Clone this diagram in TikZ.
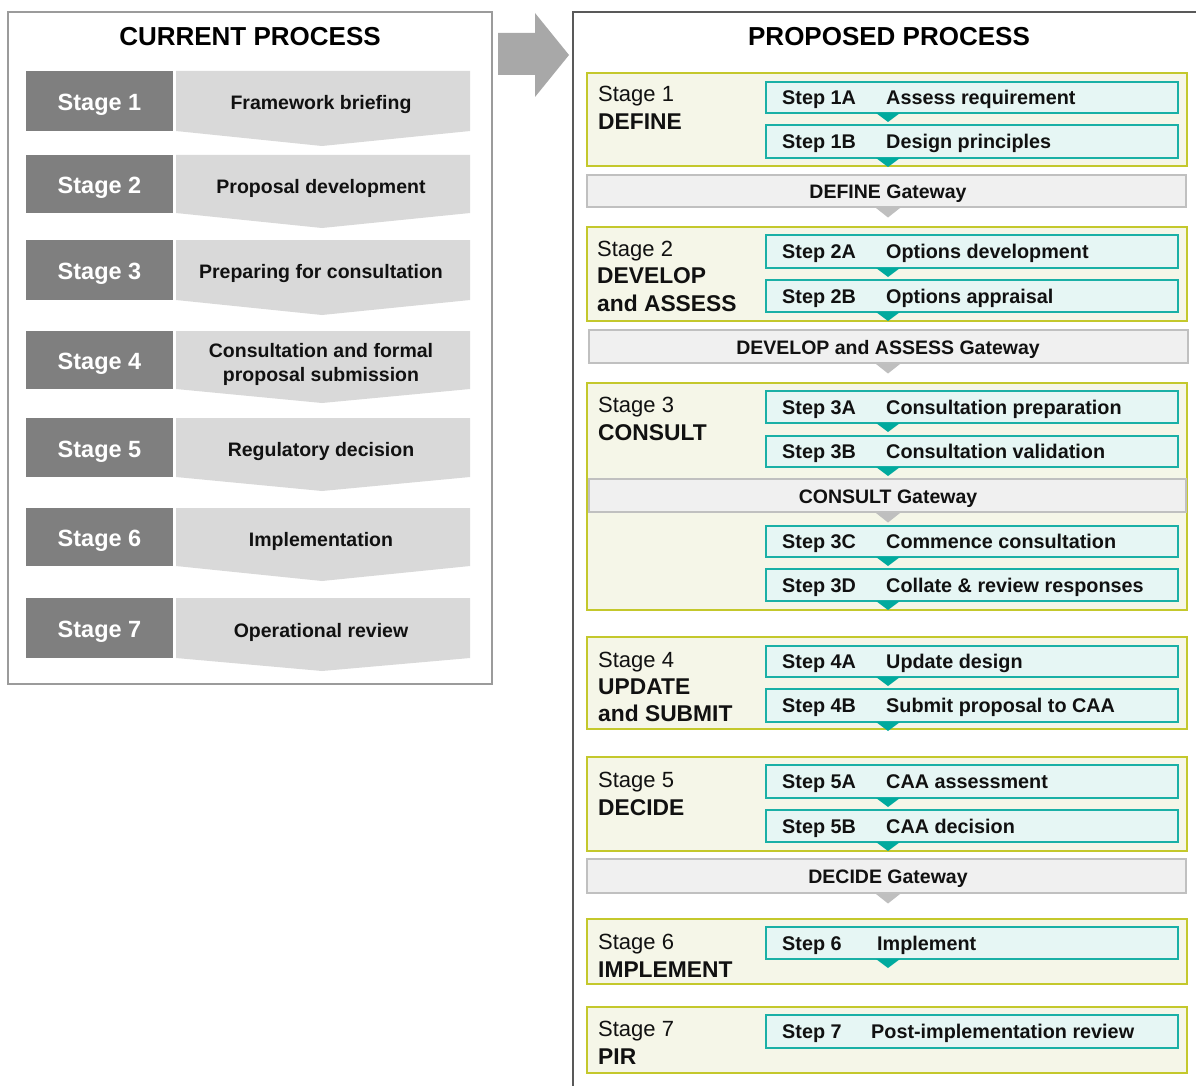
\documentclass[tikz,border=0pt]{standalone}
\usepackage{fontspec}
\setmainfont{Liberation Sans}
\definecolor{darkstage}{RGB}{127,127,127}
\definecolor{chev}{RGB}{217,217,217}
\definecolor{bigarrow}{RGB}{168,168,168}
\definecolor{leftborder}{RGB}{155,155,155}
\definecolor{rightborder}{RGB}{89,89,89}
\definecolor{stagefill}{RGB}{245,246,232}
\definecolor{stageline}{RGB}{196,200,44}
\definecolor{stepfill}{RGB}{230,246,244}
\definecolor{stepline}{RGB}{26,176,166}
\definecolor{steptri}{RGB}{0,170,158}
\definecolor{gatefill}{RGB}{240,240,240}
\definecolor{gateline}{RGB}{192,192,192}
\definecolor{gatetri}{RGB}{191,191,191}
\definecolor{txt}{RGB}{17,17,17}
\tikzset{
  box/.style={inner sep=0pt, outer sep=0pt, anchor=north west},
  stagebox/.style={box, draw=stageline, fill=stagefill, line width=1.8pt, minimum width=600pt},
  stepbox/.style={box, draw=stepline, fill=stepfill, line width=1.8pt, minimum width=412pt},
  gatebox/.style={box, draw=gateline, fill=gatefill, line width=1.5pt},
  darkbox/.style={box, fill=darkstage, minimum width=147pt},
  titletext/.style={font=\bfseries\fontsize{26}{30}\selectfont, text=black},
  lefttag/.style={font=\bfseries\fontsize{23.5}{27}\selectfont, text=white},
  chevtext/.style={font=\bfseries\fontsize{19.5}{24}\selectfont, text=txt, align=center},
  steptext/.style={font=\bfseries\fontsize{19.8}{23}\selectfont, text=txt, anchor=base west, inner sep=0pt},
  gatetext/.style={font=\bfseries\fontsize{19.5}{23}\selectfont, text=txt},
  stagenum/.style={font=\fontsize{22}{26}\selectfont, text=txt, anchor=base west, inner sep=0pt},
  stagename/.style={font=\bfseries\fontsize{22.8}{26}\selectfont, text=txt, anchor=base west, inner sep=0pt},
}
\begin{document}
\begin{tikzpicture}[x=1pt,y=-1pt]
\useasboundingbox (0,0) rectangle (1196,1086);
\fill[white] (0,0) rectangle (1196,1086);

% ---------- LEFT PANEL ----------
\draw[leftborder, line width=1.3pt] (8,12) rectangle (492,684);
\node[titletext] (ltitle) at (250,37) {CURRENT PROCESS};

\foreach \i/\t/\b/\p/\lab in {
  1/71/131/146/{Framework briefing},
  2/155/213/228/{Proposal development},
  3/240/300/315/{Preparing for consultation},
  4/331/389/403/{Consultation and formal\\proposal submission},
  5/418/477/491/{Regulatory decision},
  6/508/566/581/{Implementation},
  7/598/658/671/{Operational review}}
{
  \fill[chev] (176,\t) -- (470,\t) -- (470,\b) -- (322,\p) -- (176,\b) -- cycle;
  \pgfmathsetmacro{\h}{\b-\t}
  \node[darkbox, minimum height=\h pt] (ls\i) at (26,\t) {};
  \node[lefttag] (lt\i) at ([yshift=-4pt]ls\i.center) {Stage \i};
  \node[chevtext] (lc\i) at (321,{(\t+\b)/2+4}) {\lab};
}

% ---------- BIG ARROW ----------
\fill[bigarrow] (498,33) -- (535,33) -- (535,13) -- (569,55) -- (535,97) -- (535,75) -- (498,75) -- cycle;

% ---------- RIGHT PANEL ----------
\draw[rightborder, line width=2pt] (573,1090) -- (573,12) -- (1200,12);
\node[titletext] (rtitle) at (889,37) {PROPOSED PROCESS};

% stage boxes
\foreach \n/\t/\b in {1/73/166, 2/227/321, 3/383/610, 4/637/729, 5/757/851, 6/919/984, 7/1007/1073}
{
  \pgfmathsetmacro{\h}{\b-\t}
  \node[stagebox, minimum height=\h pt] (S\n) at (587,\t) {};
}

\coordinate (tx) at (888,0);

% gateways
\foreach \g/\x/\t/\b/\w/\lab in {
  g1/587/175/207/599/{DEFINE Gateway},
  g2/589/330/363/599/{DEVELOP and ASSESS Gateway},
  g3/589/479/512/597/{CONSULT Gateway},
  g4/587/859/893/599/{DECIDE Gateway}}
{
  \pgfmathsetmacro{\h}{\b-\t}
  \node[gatebox, minimum width=\w pt, minimum height=\h pt] (\g) at (\x,\t) {};
  \node[gatetext] (\g t) at ({888}, {(\t+\b)/2+3}) {\lab};
  \fill[gatetri] (\g.south -| tx) ++(-12,1) -- ++(24,0) -- ++(-12,9.5) -- cycle;
}

% steps
\foreach \n/\t/\b/\lab/\desc/\dx/\tri in {
  1a/82/113/{Step 1A}/{Assess requirement}/886/1,
  1b/125/158/{Step 1B}/{Design principles}/886/1,
  2a/235/268/{Step 2A}/{Options development}/886/1,
  2b/280/312/{Step 2B}/{Options appraisal}/886/1,
  3a/391/423/{Step 3A}/{Consultation preparation}/886/1,
  3b/436/467/{Step 3B}/{Consultation validation}/886/1,
  3c/526/557/{Step 3C}/{Commence consultation}/886/1,
  3d/569/601/{Step 3D}/{Collate \& review responses}/886/1,
  4a/646/677/{Step 4A}/{Update design}/886/1,
  4b/689/722/{Step 4B}/{Submit proposal to CAA}/886/1,
  5a/765/798/{Step 5A}/{CAA assessment}/886/1,
  5b/810/842/{Step 5B}/{CAA decision}/886/1,
  6/927/959/{Step 6}/{Implement}/877/1,
  7/1015/1048/{Step 7}/{Post-implementation review}/871/0}
{
  \pgfmathsetmacro{\h}{\b-\t}
  \node[stepbox, minimum height=\h pt] (st\n) at (766,\t) {};
  \node[steptext] (sl\n) at (782,{(\t+\b)/2+7}) {\lab};
  \node[steptext] (sd\n) at (\dx,{(\t+\b)/2+7}) {\desc};
  \ifnum\tri=1
    \fill[steptri] (st\n.south -| tx) ++(-12,0) -- ++(24,0) -- ++(-12,9) -- cycle;
  \fi
}

% stage labels
\node[stagenum]  (n1)  at (598,102) {Stage 1};
\node[stagename] (m1)  at (598,130) {DEFINE};
\node[stagenum]  (n2)  at (597,256) {Stage 2};
\node[stagename] (m2)  at (597,283) {DEVELOP};
\node[stagename] (m2b) at (597,311) {and ASSESS};
\node[stagenum]  (n3)  at (598,412) {Stage 3};
\node[stagename] (m3)  at (598,440) {CONSULT};
\node[stagenum]  (n4)  at (598,667) {Stage 4};
\node[stagename] (m4)  at (598,694) {UPDATE};
\node[stagename] (m4b) at (598,721) {and SUBMIT};
\node[stagenum]  (n5)  at (598,787) {Stage 5};
\node[stagename] (m5)  at (598,815) {DECIDE};
\node[stagenum]  (n6)  at (598,949) {Stage 6};
\node[stagename] (m6)  at (598,977) {IMPLEMENT};
\node[stagenum]  (n7)  at (598,1036) {Stage 7};
\node[stagename] (m7)  at (598,1064) {PIR};
\end{tikzpicture}
\end{document}
